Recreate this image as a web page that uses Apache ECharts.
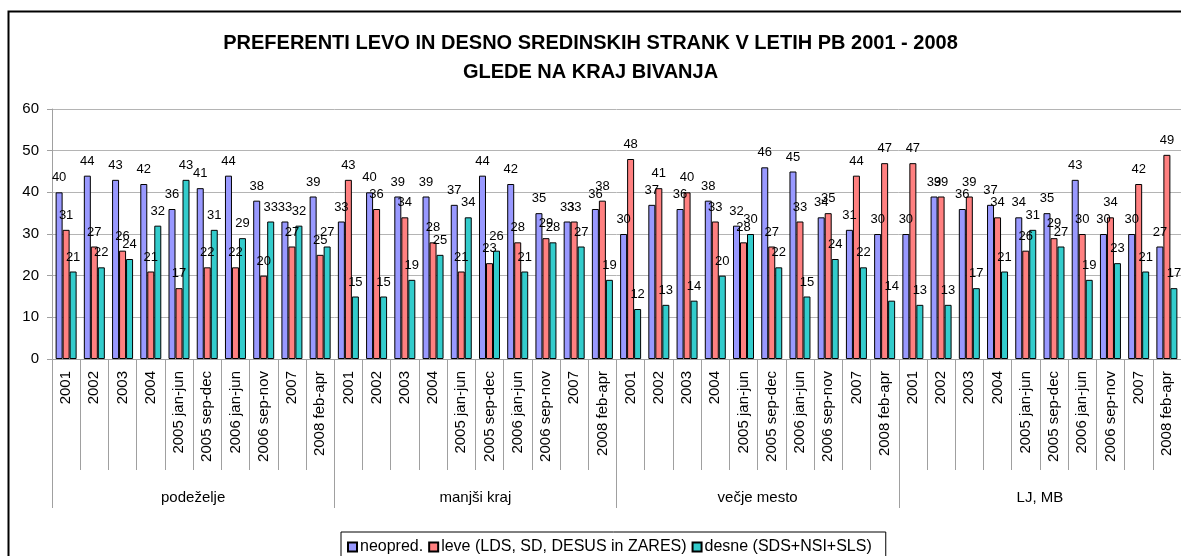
<!DOCTYPE html>
<html>
<head>
<meta charset="utf-8">
<script src="https://cdn.jsdelivr.net/npm/echarts@6/dist/echarts.min.js"></script>
<style>
  html, body { margin: 0; padding: 0; background: #fff; }
  #chart { width: 1181px; height: 556px; }
</style>
</head>
<body>
<div id="chart"></div>
<script>
// Survey periods within each settlement type
const periods = ['2001', '2002', '2003', '2004', '2005 jan-jun', '2005 sep-dec',
                 '2006 jan-jun', '2006 sep-nov', '2007', '2008 feb-apr'];
// Settlement types (outer category level)
const groups = ['podeželje', 'manjši kraj', 'večje mesto', 'LJ, MB'];
const yTicks = [0, 10, 20, 30, 40, 50, 60];

// Shares (%) per group, 10 periods each
const neopred = [
  40, 44, 43, 42, 36, 41, 44, 38, 33, 39,
  33, 40, 39, 39, 37, 44, 42, 35, 33, 36,
  30, 37, 36, 38, 32, 46, 45, 34, 31, 30,
  30, 39, 36, 37, 34, 35, 43, 30, 30, 27
];
const leve = [
  31, 27, 26, 21, 17, 22, 22, 20, 27, 25,
  43, 36, 34, 28, 21, 23, 28, 29, 33, 38,
  48, 41, 40, 33, 28, 27, 33, 35, 44, 47,
  47, 39, 39, 34, 26, 29, 30, 34, 42, 49
];
const desne = [
  21, 22, 24, 32, 43, 31, 29, 33, 32, 27,
  15, 15, 19, 25, 34, 26, 21, 28, 27, 19,
  12, 13, 14, 20, 30, 22, 15, 24, 22, 14,
  13, 13, 17, 21, 31, 27, 19, 23, 21, 17
];

const titleLines = [
  'PREFERENTI LEVO IN DESNO SREDINSKIH STRANK V LETIH PB 2001 - 2008',
  'GLEDE NA KRAJ BIVANJA'
];
const seriesNames = ['neopred.', 'leve (LDS, SD, DESUS in ZARES)', 'desne (SDS+NSI+SLS)'];
const seriesColors = ['#9999FF', '#FF8080', '#33CCCC'];
const seriesData = [neopred, leve, desne];

const xLabels = groups.flatMap(() => periods);
const FONT = '"Liberation Sans", Arial, sans-serif';
const GRAY = '#a0a0a0';

const chart = echarts.init(document.getElementById('chart'), null, { renderer: 'canvas' });

const titleStyle = { fontFamily: FONT, fontWeight: 'bold', fontSize: 20, color: '#000' };

chart.setOption({
  animation: false,
  textStyle: { fontFamily: FONT, color: '#000' },
  title: [
    { text: titleLines[0], left: 'center', top: 33, padding: 0, textStyle: titleStyle },
    { text: titleLines[1], left: 'center', top: 62, padding: 0, textStyle: titleStyle }
  ],
  // outer chart frame
  graphic: [{
    type: 'rect', silent: true, left: 6, top: 9, z: 100,
    shape: { width: 1300, height: 700 },
    style: { fill: 'none', stroke: '#000', lineWidth: 2 }
  }],
  legend: {
    left: 341,
    top: 532,
    padding: [7, 14, 6, 6],
    borderColor: '#000',
    borderWidth: 1,
    itemWidth: 9,
    itemHeight: 9,
    itemGap: 5,
    icon: 'rect',
    textStyle: { fontFamily: FONT, fontSize: 16, color: '#000', padding: [0, 0, 0, -2] },
    data: seriesNames
  },
  grid: { left: 52, right: -3, top: 109, bottom: 197, containLabel: false },
  xAxis: [
    {
      type: 'category',
      data: xLabels,
      position: 'bottom',
      axisLine: { show: true, lineStyle: { color: GRAY, width: 1 } },
      axisTick: { show: true, length: 111, lineStyle: { color: GRAY } },
      axisLabel: {
        interval: 0, rotate: 90, margin: 12,
        fontFamily: FONT, fontSize: 15, color: '#000'
      },
      splitLine: { show: false }
    },
    {
      // outer level: settlement type, with long separator ticks
      type: 'category',
      data: groups,
      position: 'bottom',
      axisLine: { show: false },
      axisTick: { show: true, length: 149, lineStyle: { color: GRAY } },
      axisLabel: {
        interval: 0, margin: 131,
        fontFamily: FONT, fontSize: 15, color: '#000'
      },
      splitLine: { show: false }
    }
  ],
  yAxis: {
    type: 'value',
    min: yTicks[0],
    max: yTicks[yTicks.length - 1],
    interval: 10,
    axisLine: { show: true, lineStyle: { color: GRAY } },
    axisTick: { show: true, length: 5, lineStyle: { color: GRAY } },
    axisLabel: { margin: 13, fontFamily: FONT, fontSize: 15, color: '#000' },
    splitLine: { show: true, lineStyle: { color: '#b4b4b4', width: 1 } }
  },
  series: seriesData.map((d, i) => ({
    name: seriesNames[i],
    type: 'bar',
    xAxisIndex: 0,
    data: d,
    barWidth: 7,
    barGap: '0%',
    itemStyle: { color: seriesColors[i], borderColor: '#000', borderWidth: 1 },
    label: {
      show: true,
      position: 'top',
      distance: 8,
      fontFamily: FONT,
      fontSize: 13,
      color: '#000'
    }
  }))
});
</script>
</body>
</html>
